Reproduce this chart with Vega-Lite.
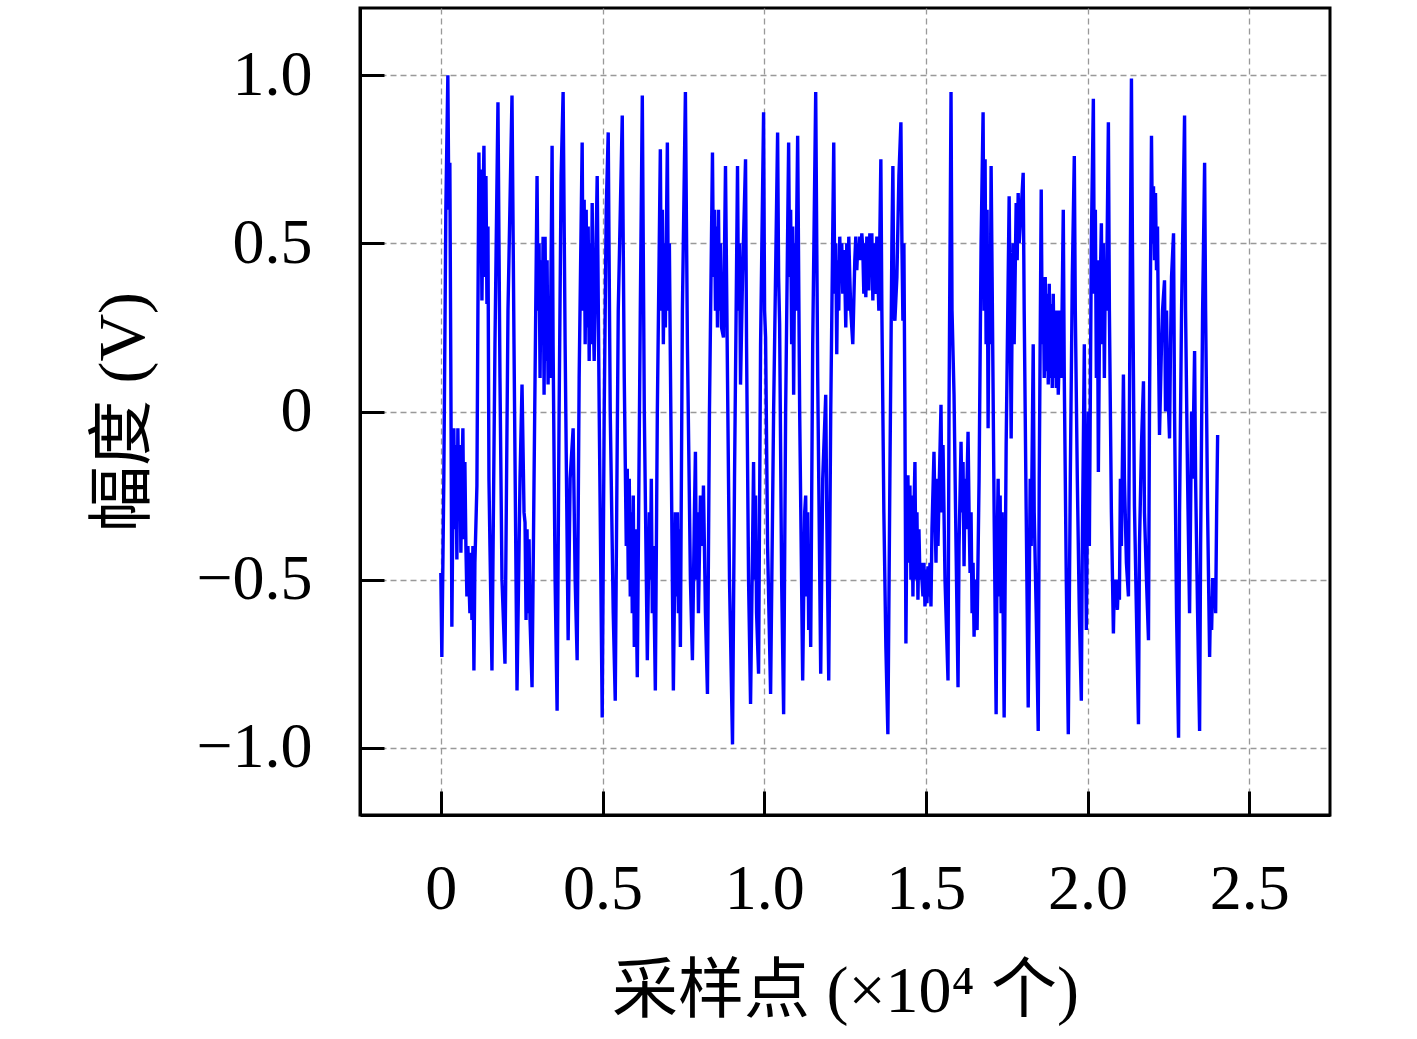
{
  "$schema": "https://vega.github.io/schema/vega-lite/v6.json",
  "width": 970,
  "height": 807,
  "autosize": {"type": "none"},
  "padding": {"left": 360, "top": 8, "right": 87, "bottom": 224},
  "background": "white",
  "config": {
    "view": {"stroke": "black", "strokeWidth": 3},
    "axis": {
      "domainColor": "black",
      "domainWidth": 3,
      "tickColor": "black",
      "tickWidth": 3,
      "tickSize": -24,
      "gridColor": "#999999",
      "gridDash": [6, 4],
      "gridWidth": 1.3,
      "labelFont": "Liberation Serif",
      "labelFontSize": 64,
      "labelColor": "black",
      "labelFlush": false,
      "labelOverlap": false,
      "titleFont": "'Liberation Serif', 'Noto Sans CJK SC'",
      "titleFontSize": 66,
      "titleFontWeight": "normal",
      "titleColor": "black"
    }
  },
  "data": {
    "values": [
      {"n":0,"v":-0.48},{"n":31,"v":-0.73},{"n":93,"v":-0.2},{"n":155,"v":0.6},{"n":217,"v":1.0},{"n":248,"v":0.6},{"n":279,"v":0.74},{"n":310,"v":0.1},{"n":341,"v":-0.64},{"n":372,"v":-0.3},
      {"n":403,"v":-0.05},{"n":434,"v":-0.35},{"n":465,"v":-0.1},{"n":496,"v":-0.44},{"n":527,"v":-0.05},{"n":558,"v":-0.3},{"n":589,"v":-0.1},{"n":620,"v":-0.42},{"n":651,"v":-0.2},{"n":682,"v":-0.05},
      {"n":713,"v":-0.38},{"n":744,"v":-0.15},{"n":775,"v":-0.4},{"n":806,"v":-0.55},{"n":837,"v":-0.4},{"n":899,"v":-0.6},{"n":930,"v":-0.42},{"n":961,"v":-0.62},{"n":992,"v":-0.4},{"n":1023,"v":-0.77},
      {"n":1054,"v":-0.45},{"n":1116,"v":-0.22},{"n":1147,"v":0.3},{"n":1178,"v":0.77},{"n":1209,"v":0.45},{"n":1240,"v":0.72},{"n":1271,"v":0.33},{"n":1302,"v":0.6},{"n":1333,"v":0.79},{"n":1364,"v":0.4},
      {"n":1395,"v":0.7},{"n":1426,"v":0.32},{"n":1457,"v":0.55},{"n":1488,"v":-0.2},{"n":1519,"v":-0.4},{"n":1581,"v":-0.77},{"n":1674,"v":0.2},{"n":1767,"v":0.92},{"n":1829,"v":0.1},{"n":1891,"v":-0.5},
      {"n":1984,"v":-0.75},{"n":2077,"v":0.3},{"n":2201,"v":0.94},{"n":2263,"v":0.2},{"n":2356,"v":-0.83},{"n":2449,"v":-0.2},{"n":2511,"v":0.08},{"n":2573,"v":-0.3},{"n":2604,"v":-0.33},{"n":2635,"v":-0.62},
      {"n":2666,"v":-0.35},{"n":2697,"v":-0.6},{"n":2728,"v":-0.38},{"n":2759,"v":-0.62},{"n":2821,"v":-0.82},{"n":2883,"v":-0.2},{"n":2976,"v":0.7},{"n":3007,"v":0.3},{"n":3038,"v":0.5},{"n":3069,"v":0.1},
      {"n":3100,"v":0.45},{"n":3131,"v":0.2},{"n":3162,"v":0.52},{"n":3193,"v":0.05},{"n":3224,"v":0.52},{"n":3255,"v":0.15},{"n":3286,"v":0.45},{"n":3317,"v":0.08},{"n":3348,"v":0.3},{"n":3379,"v":0.1},
      {"n":3441,"v":0.79},{"n":3472,"v":0.2},{"n":3534,"v":-0.5},{"n":3596,"v":-0.89},{"n":3658,"v":0.0},{"n":3720,"v":0.7},{"n":3782,"v":0.95},{"n":3844,"v":0.2},{"n":3937,"v":-0.68},{"n":3999,"v":-0.2},
      {"n":4092,"v":-0.05},{"n":4154,"v":-0.5},{"n":4216,"v":-0.74},{"n":4278,"v":0.1},{"n":4371,"v":0.8},{"n":4402,"v":0.3},{"n":4433,"v":0.63},{"n":4464,"v":0.2},{"n":4495,"v":0.6},{"n":4526,"v":0.25},
      {"n":4557,"v":0.55},{"n":4588,"v":0.15},{"n":4619,"v":0.5},{"n":4650,"v":0.2},{"n":4681,"v":0.62},{"n":4712,"v":0.3},{"n":4743,"v":0.15},{"n":4836,"v":0.7},{"n":4898,"v":0.0},{"n":4991,"v":-0.91},
      {"n":5053,"v":0.0},{"n":5115,"v":0.6},{"n":5177,"v":0.83},{"n":5239,"v":0.0},{"n":5332,"v":-0.6},{"n":5394,"v":-0.86},{"n":5487,"v":0.3},{"n":5611,"v":0.88},{"n":5673,"v":0.1},{"n":5735,"v":-0.4},
      {"n":5766,"v":-0.17},{"n":5797,"v":-0.5},{"n":5828,"v":-0.2},{"n":5859,"v":-0.55},{"n":5890,"v":-0.3},{"n":5921,"v":-0.6},{"n":5952,"v":-0.25},{"n":5983,"v":-0.7},{"n":6014,"v":-0.35},{"n":6076,"v":-0.79},
      {"n":6169,"v":0.3},{"n":6231,"v":0.94},{"n":6293,"v":0.0},{"n":6386,"v":-0.74},{"n":6448,"v":-0.3},{"n":6479,"v":-0.5},{"n":6510,"v":-0.2},{"n":6541,"v":-0.6},{"n":6572,"v":-0.4},{"n":6634,"v":-0.83},
      {"n":6696,"v":0.0},{"n":6789,"v":0.78},{"n":6820,"v":0.3},{"n":6851,"v":0.6},{"n":6882,"v":0.2},{"n":6913,"v":0.5},{"n":6944,"v":0.25},{"n":7006,"v":0.8},{"n":7037,"v":0.3},{"n":7068,"v":0.5},
      {"n":7099,"v":0.15},{"n":7192,"v":-0.83},{"n":7254,"v":-0.3},{"n":7285,"v":-0.55},{"n":7316,"v":-0.3},{"n":7347,"v":-0.6},{"n":7378,"v":-0.35},{"n":7409,"v":-0.7},{"n":7471,"v":0.3},{"n":7564,"v":0.95},
      {"n":7626,"v":0.2},{"n":7719,"v":-0.5},{"n":7781,"v":-0.74},{"n":7843,"v":-0.3},{"n":7874,"v":-0.12},{"n":7905,"v":-0.5},{"n":7936,"v":-0.3},{"n":7967,"v":-0.6},{"n":8029,"v":-0.25},{"n":8091,"v":-0.4},
      {"n":8122,"v":-0.22},{"n":8184,"v":-0.6},{"n":8246,"v":-0.84},{"n":8308,"v":0.0},{"n":8401,"v":0.77},{"n":8432,"v":0.4},{"n":8463,"v":0.6},{"n":8494,"v":0.3},{"n":8525,"v":0.55},{"n":8556,"v":0.25},
      {"n":8587,"v":0.6},{"n":8618,"v":0.3},{"n":8649,"v":0.5},{"n":8680,"v":0.25},{"n":8742,"v":0.22},{"n":8804,"v":0.73},{"n":8866,"v":0.1},{"n":8928,"v":-0.5},{"n":9021,"v":-0.99},{"n":9083,"v":-0.2},
      {"n":9176,"v":0.73},{"n":9207,"v":0.3},{"n":9238,"v":0.5},{"n":9269,"v":0.08},{"n":9331,"v":0.4},{"n":9424,"v":0.75},{"n":9455,"v":0.2},{"n":9517,"v":-0.5},{"n":9579,"v":-0.87},{"n":9641,"v":-0.4},
      {"n":9672,"v":-0.15},{"n":9703,"v":-0.5},{"n":9734,"v":-0.25},{"n":9765,"v":-0.6},{"n":9827,"v":-0.78},{"n":9889,"v":0.2},{"n":9982,"v":0.89},{"n":10013,"v":0.3},{"n":10044,"v":0.22},{"n":10106,"v":-0.4},
      {"n":10199,"v":-0.84},{"n":10292,"v":0.0},{"n":10416,"v":0.83},{"n":10447,"v":0.4},{"n":10478,"v":0.26},{"n":10540,"v":-0.5},{"n":10602,"v":-0.9},{"n":10664,"v":0.0},{"n":10757,"v":0.8},{"n":10788,"v":0.4},
      {"n":10819,"v":0.6},{"n":10850,"v":0.2},{"n":10881,"v":0.55},{"n":10912,"v":0.05},{"n":10943,"v":0.5},{"n":10974,"v":0.3},{"n":11036,"v":0.82},{"n":11098,"v":0.0},{"n":11191,"v":-0.8},{"n":11253,"v":-0.3},
      {"n":11284,"v":-0.25},{"n":11315,"v":-0.55},{"n":11346,"v":-0.3},{"n":11377,"v":-0.65},{"n":11408,"v":-0.4},{"n":11439,"v":-0.7},{"n":11501,"v":0.2},{"n":11594,"v":0.95},{"n":11656,"v":0.1},{"n":11749,"v":-0.78},
      {"n":11811,"v":-0.2},{"n":11904,"v":0.05},{"n":11935,"v":-0.3},{"n":11997,"v":-0.8},{"n":12059,"v":0.0},{"n":12152,"v":0.8},{"n":12183,"v":0.35},{"n":12214,"v":0.5},{"n":12245,"v":0.17},{"n":12276,"v":0.45},
      {"n":12307,"v":0.3},{"n":12338,"v":0.52},{"n":12369,"v":0.4},{"n":12400,"v":0.5},{"n":12431,"v":0.35},{"n":12462,"v":0.48},{"n":12493,"v":0.4},{"n":12524,"v":0.25},{"n":12555,"v":0.5},{"n":12586,"v":0.3},
      {"n":12617,"v":0.52},{"n":12648,"v":0.4},{"n":12679,"v":0.3},{"n":12741,"v":0.2},{"n":12803,"v":0.45},{"n":12834,"v":0.52},{"n":12865,"v":0.42},{"n":12896,"v":0.5},{"n":12927,"v":0.45},{"n":12958,"v":0.52},
      {"n":12989,"v":0.45},{"n":13020,"v":0.53},{"n":13051,"v":0.48},{"n":13082,"v":0.35},{"n":13113,"v":0.5},{"n":13144,"v":0.34},{"n":13175,"v":0.52},{"n":13206,"v":0.45},{"n":13237,"v":0.36},{"n":13268,"v":0.53},
      {"n":13299,"v":0.4},{"n":13330,"v":0.53},{"n":13361,"v":0.33},{"n":13392,"v":0.5},{"n":13454,"v":0.35},{"n":13485,"v":0.52},{"n":13516,"v":0.4},{"n":13547,"v":0.3},{"n":13609,"v":0.75},{"n":13640,"v":0.3},
      {"n":13702,"v":-0.3},{"n":13764,"v":-0.7},{"n":13826,"v":-0.96},{"n":13888,"v":-0.2},{"n":13950,"v":0.5},{"n":13981,"v":0.73},{"n":14012,"v":0.3},{"n":14043,"v":0.27},{"n":14105,"v":0.4},{"n":14167,"v":0.7},
      {"n":14229,"v":0.86},{"n":14260,"v":0.5},{"n":14291,"v":0.27},{"n":14322,"v":0.5},{"n":14353,"v":0.0},{"n":14384,"v":-0.69},{"n":14415,"v":-0.3},{"n":14446,"v":-0.19},{"n":14477,"v":-0.45},{"n":14508,"v":-0.22},
      {"n":14539,"v":-0.5},{"n":14570,"v":-0.25},{"n":14601,"v":-0.55},{"n":14632,"v":-0.3},{"n":14663,"v":-0.15},{"n":14694,"v":-0.5},{"n":14725,"v":-0.3},{"n":14756,"v":-0.56},{"n":14787,"v":-0.35},{"n":14818,"v":-0.5},
      {"n":14849,"v":-0.45},{"n":14911,"v":-0.55},{"n":14942,"v":-0.45},{"n":14973,"v":-0.58},{"n":15004,"v":-0.47},{"n":15035,"v":-0.57},{"n":15066,"v":-0.46},{"n":15097,"v":-0.55},{"n":15128,"v":-0.45},{"n":15159,"v":-0.58},
      {"n":15190,"v":-0.35},{"n":15252,"v":-0.12},{"n":15283,"v":-0.3},{"n":15314,"v":-0.45},{"n":15345,"v":-0.2},{"n":15376,"v":-0.4},{"n":15407,"v":-0.25},{"n":15469,"v":0.02},{"n":15500,"v":-0.3},{"n":15531,"v":-0.1},
      {"n":15593,"v":-0.5},{"n":15686,"v":-0.8},{"n":15717,"v":0.0},{"n":15779,"v":0.95},{"n":15810,"v":0.3},{"n":15872,"v":0.05},{"n":15934,"v":-0.4},{"n":15996,"v":-0.82},{"n":16027,"v":-0.4},{"n":16089,"v":-0.09},
      {"n":16120,"v":-0.3},{"n":16151,"v":-0.15},{"n":16182,"v":-0.46},{"n":16213,"v":-0.2},{"n":16244,"v":-0.35},{"n":16306,"v":-0.06},{"n":16337,"v":-0.3},{"n":16368,"v":-0.48},{"n":16399,"v":-0.3},{"n":16430,"v":-0.6},
      {"n":16461,"v":-0.45},{"n":16492,"v":-0.67},{"n":16523,"v":-0.5},{"n":16585,"v":-0.65},{"n":16647,"v":-0.2},{"n":16709,"v":0.5},{"n":16771,"v":0.89},{"n":16802,"v":0.3},{"n":16833,"v":0.75},{"n":16864,"v":0.2},
      {"n":16895,"v":0.6},{"n":16926,"v":-0.05},{"n":16957,"v":0.4},{"n":16988,"v":0.2},{"n":17019,"v":0.73},{"n":17050,"v":0.4},{"n":17112,"v":-0.3},{"n":17174,"v":-0.9},{"n":17205,"v":-0.4},{"n":17236,"v":-0.2},
      {"n":17267,"v":-0.55},{"n":17298,"v":-0.25},{"n":17329,"v":-0.6},{"n":17360,"v":-0.3},{"n":17422,"v":-0.91},{"n":17484,"v":-0.1},{"n":17577,"v":0.64},{"n":17608,"v":0.3},{"n":17639,"v":-0.08},{"n":17670,"v":0.3},
      {"n":17701,"v":0.5},{"n":17732,"v":0.2},{"n":17794,"v":0.62},{"n":17825,"v":0.45},{"n":17856,"v":0.65},{"n":17887,"v":0.5},{"n":17949,"v":0.6},{"n":18011,"v":0.71},{"n":18042,"v":0.3},{"n":18104,"v":-0.3},
      {"n":18166,"v":-0.88},{"n":18228,"v":-0.2},{"n":18259,"v":-0.4},{"n":18321,"v":0.2},{"n":18352,"v":-0.3},{"n":18414,"v":-0.6},{"n":18476,"v":-0.95},{"n":18507,"v":-0.2},{"n":18569,"v":0.66},{"n":18600,"v":0.2},
      {"n":18631,"v":0.38},{"n":18662,"v":0.1},{"n":18693,"v":0.4},{"n":18724,"v":0.12},{"n":18755,"v":0.35},{"n":18786,"v":0.08},{"n":18817,"v":0.38},{"n":18848,"v":0.1},{"n":18879,"v":0.32},{"n":18910,"v":0.07},
      {"n":18941,"v":0.35},{"n":18972,"v":0.1},{"n":19003,"v":0.3},{"n":19034,"v":0.07},{"n":19065,"v":0.3},{"n":19096,"v":0.05},{"n":19158,"v":0.3},{"n":19189,"v":0.1},{"n":19251,"v":0.6},{"n":19282,"v":0.1},
      {"n":19344,"v":-0.5},{"n":19406,"v":-0.96},{"n":19468,"v":-0.2},{"n":19530,"v":0.4},{"n":19592,"v":0.76},{"n":19623,"v":0.3},{"n":19685,"v":-0.2},{"n":19747,"v":-0.6},{"n":19809,"v":-0.86},{"n":19840,"v":-0.4},
      {"n":19902,"v":0.2},{"n":19933,"v":-0.3},{"n":19964,"v":-0.65},{"n":19995,"v":-0.3},{"n":20026,"v":0.0},{"n":20057,"v":-0.4},{"n":20119,"v":0.5},{"n":20181,"v":0.93},{"n":20212,"v":0.35},{"n":20243,"v":0.6},
      {"n":20274,"v":0.1},{"n":20305,"v":0.45},{"n":20336,"v":-0.18},{"n":20367,"v":0.2},{"n":20398,"v":0.4},{"n":20429,"v":0.56},{"n":20460,"v":0.2},{"n":20491,"v":0.5},{"n":20522,"v":0.1},{"n":20553,"v":0.45},
      {"n":20584,"v":0.3},{"n":20646,"v":0.86},{"n":20677,"v":0.3},{"n":20739,"v":-0.3},{"n":20801,"v":-0.66},{"n":20832,"v":-0.5},{"n":20863,"v":-0.58},{"n":20894,"v":-0.5},{"n":20925,"v":-0.59},{"n":20956,"v":-0.5},
      {"n":20987,"v":-0.56},{"n":21018,"v":-0.2},{"n":21049,"v":-0.4},{"n":21111,"v":0.11},{"n":21142,"v":-0.2},{"n":21204,"v":-0.45},{"n":21266,"v":-0.55},{"n":21297,"v":0.0},{"n":21359,"v":0.99},{"n":21390,"v":0.5},
      {"n":21452,"v":-0.28},{"n":21514,"v":-0.6},{"n":21576,"v":-0.93},{"n":21607,"v":-0.4},{"n":21669,"v":-0.1},{"n":21731,"v":0.09},{"n":21762,"v":-0.3},{"n":21824,"v":-0.5},{"n":21886,"v":-0.68},{"n":21917,"v":0.0},
      {"n":21979,"v":0.82},{"n":22010,"v":0.5},{"n":22041,"v":0.67},{"n":22072,"v":0.45},{"n":22103,"v":0.65},{"n":22134,"v":0.42},{"n":22165,"v":0.55},{"n":22196,"v":0.2},{"n":22227,"v":-0.07},{"n":22289,"v":0.2},
      {"n":22320,"v":0.3},{"n":22382,"v":0.39},{"n":22413,"v":0.0},{"n":22444,"v":0.3},{"n":22475,"v":0.1},{"n":22537,"v":-0.08},{"n":22568,"v":0.2},{"n":22599,"v":0.4},{"n":22661,"v":0.53},{"n":22692,"v":0.0},
      {"n":22754,"v":-0.6},{"n":22816,"v":-0.97},{"n":22847,"v":-0.3},{"n":22909,"v":0.3},{"n":23002,"v":0.88},{"n":23033,"v":0.3},{"n":23095,"v":-0.2},{"n":23157,"v":-0.6},{"n":23188,"v":-0.3},{"n":23219,"v":0.0},
      {"n":23250,"v":-0.2},{"n":23312,"v":0.18},{"n":23343,"v":-0.2},{"n":23405,"v":-0.6},{"n":23467,"v":-0.95},{"n":23498,"v":-0.4},{"n":23560,"v":0.3},{"n":23622,"v":0.74},{"n":23653,"v":0.3},{"n":23715,"v":-0.3},
      {"n":23777,"v":-0.73},{"n":23808,"v":-0.55},{"n":23839,"v":-0.65},{"n":23870,"v":-0.5},{"n":23932,"v":-0.5},{"n":23963,"v":-0.6},{"n":23994,"v":-0.3},{"n":24025,"v":-0.07}
    ]
  },
  "mark": {"type": "line", "color": "#0000ff", "strokeWidth": 3.4, "clip": true},
  "encoding": {
    "x": {
      "field": "n",
      "type": "quantitative",
      "scale": {"domain": [-2500, 27500], "nice": false, "zero": false},
      "axis": {
        "title": "采样点 (×10⁴ 个)",
        "values": [0, 5000, 10000, 15000, 20000, 25000],
        "labelExpr": "datum.value == 0 ? '0' : format(datum.value / 10000, '.1f')",
        "labelPadding": 66,
        "titlePadding": 38
      }
    },
    "y": {
      "field": "v",
      "type": "quantitative",
      "scale": {"domain": [-1.2, 1.2], "nice": false, "zero": false},
      "axis": {
        "title": "幅度 (V)",
        "values": [-1, -0.5, 0, 0.5, 1],
        "labelExpr": "datum.value == 0 ? '0' : replace(format(datum.value, '.1f'), '-', '−')",
        "labelPadding": 72,
        "titlePadding": 38
      }
    }
  }
}
